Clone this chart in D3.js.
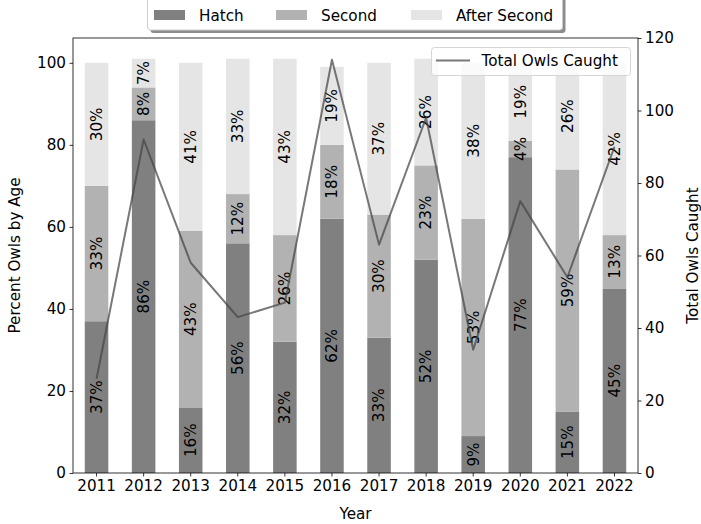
<!DOCTYPE html>
<html>
<head>
<meta charset="utf-8">
<script src="https://cdn.jsdelivr.net/npm/d3@7"></script>
<style>
  html, body { margin: 0; padding: 0; background: #fff; }
  svg { display: block; font-family: "DejaVu Sans", sans-serif; }
</style>
</head>
<body>
<svg id="chart" width="701" height="524"></svg>
<script>
// Banding data: share of owls by age class per year, and total caught
const years = ["2011","2012","2013","2014","2015","2016","2017","2018","2019","2020","2021","2022"];
const hatch = [37, 86, 16, 56, 32, 62, 33, 52, 9, 77, 15, 45];
const second = [33, 8, 43, 12, 26, 18, 30, 23, 53, 4, 59, 13];
const afterSecond = [30, 7, 41, 33, 43, 19, 37, 26, 38, 19, 26, 42];
const totalCaught = [26, 92, 58, 43, 47, 114, 63, 98, 34, 75, 54, 90];
const leftTicks = [0, 20, 40, 60, 80, 100];
const rightTicks = [0, 20, 40, 60, 80, 100, 120];

const seriesNames = ["Hatch", "Second", "After Second"];
const seriesColors = ["#808080", "#b2b2b2", "#e5e5e5"];

const W = 701, H = 524;
const margin = { left: 73, right: 63, top: 38, bottom: 51 };
const x0 = margin.left, x1 = W - margin.right;
const y0 = H - margin.bottom, y1 = margin.top;
const FS = 15.2;

const svg = d3.select("#chart");

// Category axis: each year occupies one unit, bars are half a unit wide
const x = d3.scaleBand().domain(years).range([x0, x1]).paddingInner(0.5).paddingOuter(0.25);
const yL = d3.scaleLinear().domain([0, 101 * 1.05]).range([y0, y1]);
const yR = d3.scaleLinear().domain([0, 120]).range([y0, y1]);

// Stack the three age classes
const rows = years.map((yr, i) => ({ year: yr, Hatch: hatch[i], Second: second[i], "After Second": afterSecond[i] }));
const stacked = d3.stack().keys(seriesNames)(rows);

const barG = svg.append("g");
stacked.forEach((layer, li) => {
  barG.selectAll(null).data(layer).enter().append("rect")
    .attr("x", d => x(d.data.year))
    .attr("width", x.bandwidth())
    .attr("y", d => yL(d[1]))
    .attr("height", d => yL(d[0]) - yL(d[1]))
    .attr("fill", seriesColors[li]);
});

// Percent labels in the middle of each segment, rotated
const labelG = svg.append("g");
stacked.forEach(layer => {
  labelG.selectAll(null).data(layer).enter().append("text")
    .attr("transform", d => `translate(${x(d.data.year) + x.bandwidth() / 2},${yL((d[0] + d[1]) / 2)}) rotate(-90)`)
    .attr("text-anchor", "middle")
    .attr("dy", "0.35em")
    .attr("font-size", FS)
    .attr("fill", "#000")
    .text(d => `${d[1] - d[0]}%`);
});

// Axes
const axL = d3.axisLeft(yL).tickValues(leftTicks).tickSize(3.5).tickPadding(3.5);
const axR = d3.axisRight(yR).tickValues(rightTicks).tickSize(3.5).tickPadding(3.5);
const axB = d3.axisBottom(x).tickSize(3.5).tickPadding(3.5);

function styleAxis(g) {
  g.select(".domain").remove();
  g.selectAll(".tick line").attr("stroke", "#000").attr("stroke-width", 0.8);
  g.selectAll(".tick text").attr("font-size", FS).attr("fill", "#000").attr("font-family", "DejaVu Sans, sans-serif");
}
svg.append("g").attr("transform", `translate(${x0},0)`).call(axL).call(styleAxis);
svg.append("g").attr("transform", `translate(${x1},0)`).call(axR).call(styleAxis);
svg.append("g").attr("transform", `translate(0,${y0})`).call(axB).call(styleAxis);

// Frame
svg.append("rect").attr("x", x0).attr("y", y1).attr("width", x1 - x0).attr("height", y0 - y1)
  .attr("fill", "none").attr("stroke", "#000").attr("stroke-width", 0.8);

// Axis titles
svg.append("text").attr("transform", `translate(${x0 - 53},${(y0 + y1) / 2}) rotate(-90)`)
  .attr("text-anchor", "middle").attr("font-size", FS).text("Percent Owls by Age");
svg.append("text").attr("transform", `translate(${x1 + 60},${(y0 + y1) / 2}) rotate(-90)`)
  .attr("text-anchor", "middle").attr("font-size", FS).text("Total Owls Caught");
svg.append("text").attr("x", (x0 + x1) / 2).attr("y", y0 + 46)
  .attr("text-anchor", "middle").attr("font-size", FS).text("Year");

// Total caught line on the secondary axis
const line = d3.line().x((d, i) => x(years[i]) + x.bandwidth() / 2).y(d => yR(d));
svg.append("path").datum(totalCaught).attr("d", line)
  .attr("fill", "none").attr("stroke", "#444").attr("stroke-opacity", 0.72).attr("stroke-width", 2)
  .attr("stroke-linejoin", "round");

// Legend for the line, upper right inside the plot
const lg = svg.append("g");
lg.append("rect").attr("x", 431.5).attr("y", 47.5).attr("width", 199).attr("height", 28).attr("rx", 3)
  .attr("fill", "#fff").attr("fill-opacity", 0.8).attr("stroke", "#d6d6d6").attr("stroke-width", 1);
lg.append("line").attr("x1", 436).attr("x2", 470).attr("y1", 60.5).attr("y2", 60.5)
  .attr("stroke", "#444").attr("stroke-opacity", 0.72).attr("stroke-width", 2);
lg.append("text").attr("x", 481.5).attr("y", 61).attr("dy", "0.35em").attr("font-size", FS).text("Total Owls Caught");

// Age class legend above the plot, with a drop shadow
const tg = svg.append("g");
tg.append("rect").attr("x", 150.5).attr("y", -10).attr("width", 415).attr("height", 43).attr("rx", 3)
  .attr("fill", "#000").attr("fill-opacity", 0.45);
tg.append("rect").attr("x", 147.5).attr("y", -13).attr("width", 415).attr("height", 43).attr("rx", 3)
  .attr("fill", "#fff").attr("stroke", "#cccccc").attr("stroke-width", 1);
const legX = [154, 276, 411];
seriesNames.forEach((name, i) => {
  tg.append("rect").attr("x", legX[i]).attr("y", 10).attr("width", 31).attr("height", 10).attr("fill", seriesColors[i]);
  tg.append("text").attr("x", legX[i] + 45).attr("y", 15.5).attr("dy", "0.35em").attr("font-size", FS).text(name);
});
</script>
</body>
</html>
